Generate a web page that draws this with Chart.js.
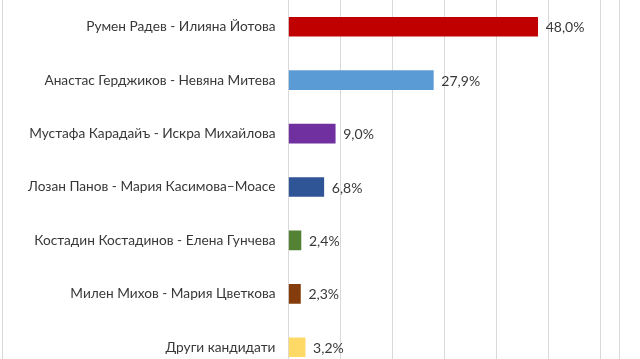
<!DOCTYPE html>
<html>
<head>
<meta charset="utf-8">
<script src="https://cdn.jsdelivr.net/npm/chart.js@4.4.1/dist/chart.umd.min.js"></script>
<style>
  html, body { margin: 0; padding: 0; background: #fff; overflow: hidden; }
  .frame {
    position: absolute; left: 2px; top: 0;
    width: 616px; height: 374px;
    border-left: 1px solid #d9d9d9; border-right: 1px solid #d9d9d9;
  }
</style>
</head>
<body>
<div class="frame"><canvas id="bar-chart" width="616" height="374"></canvas></div>
<script>
const candidates = [
  "Румен Радев - Илияна Йотова",
  "Анастас Герджиков - Невяна Митева",
  "Мустафа Карадайъ - Искра Михайлова",
  "Лозан Панов - Мария Касимова–Моасе",
  "Костадин Костадинов - Елена Гунчева",
  "Милен Михов - Мария Цветкова",
  "Други кандидати"
];
const shares = [48.0, 27.9, 9.0, 6.8, 2.4, 2.3, 3.2];
const barColors = ["#c00000", "#5b9bd5", "#7030a0", "#2f5597", "#548235", "#843c0c", "#ffd966"];

const FONT = "Lato, 'Noto Sans', sans-serif";

// value labels to the right of each bar, e.g. "48,0%"
const valueLabels = {
  id: "valueLabels",
  afterDatasetsDraw(chart) {
    const ctx = chart.ctx;
    const meta = chart.getDatasetMeta(0);
    ctx.save();
    ctx.font = "14px " + FONT;
    ctx.fillStyle = "#383838";
    ctx.textBaseline = "middle";
    ctx.textAlign = "left";
    meta.data.forEach((bar, i) => {
      const txt = shares[i].toFixed(1).replace(".", ",") + "%";
      ctx.fillText(txt, bar.x + 8, bar.y + 1);
    });
    ctx.restore();
  }
};

new Chart(document.getElementById("bar-chart").getContext("2d"), {
  type: "bar",
  data: {
    labels: candidates,
    datasets: [{
      data: shares,
      backgroundColor: barColors,
      borderWidth: 0,
      barThickness: 19
    }]
  },
  options: {
    indexAxis: "y",
    responsive: false,
    animation: false,
    layout: { padding: { left: 0, right: 19, top: 0, bottom: 0 } },
    plugins: { legend: { display: false }, tooltip: { enabled: false } },
    scales: {
      x: {
        min: 0, max: 60,
        ticks: { display: false, stepSize: 10 },
        grid: { color: "#d9d9d9", drawTicks: false },
        border: { display: false }
      },
      y: {
        afterFit(scale) {
          scale.width = 285.5;
          scale.paddingTop = 0;
          scale.paddingBottom = 0;
        },
        grid: { display: false, drawTicks: false },
        border: { color: "#d9d9d9" },
        ticks: {
          padding: 13,
          color: "#383838",
          font: { family: FONT, size: 13.7 }
        }
      }
    }
  },
  plugins: [valueLabels]
});
</script>
</body>
</html>
